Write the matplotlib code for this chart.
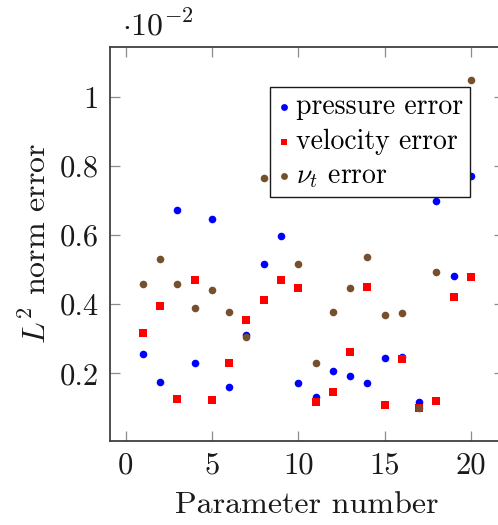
import matplotlib

matplotlib.use("Agg")
import matplotlib.pyplot as plt

plt.rcParams["font.family"] = "serif"
plt.rcParams["font.serif"] = ["cmr10", "DejaVu Serif"]
plt.rcParams["mathtext.fontset"] = "cm"
plt.rcParams["axes.formatter.use_mathtext"] = True

# values in units of 1e-2
params = list(range(1, 21))
pressure_err = [0.255, 0.175, 0.671, 0.231, 0.645, 0.161, 0.310, 0.517, 0.598, 0.172,
                0.130, 0.207, 0.191, 0.171, 0.243, 0.248, 0.116, 0.698, 0.482, 0.772]
velocity_err = [0.316, 0.396, 0.127, 0.471, 0.124, 0.229, 0.355, 0.411, 0.471, 0.447,
                0.116, 0.145, 0.263, 0.449, 0.109, 0.242, 0.101, 0.121, 0.420, 0.478]
nut_err = [0.458, 0.530, 0.459, 0.390, 0.440, 0.378, 0.306, 0.764, 0.900, 0.516,
           0.231, 0.376, 0.448, 0.536, 0.368, 0.374, 0.100, 0.492, 0.724, 1.050]

x_ticks = [0, 5, 10, 15, 20]
y_ticks = [0.2, 0.4, 0.6, 0.8, 1.0]
y_ticklabels = ["0.2", "0.4", "0.6", "0.8", "1"]

fig = plt.figure(figsize=(4.98, 5.25), dpi=100)
ax = fig.add_axes([0.2209, 0.1606, 0.7907, 0.7505])

ax.scatter(params, pressure_err, s=30, marker="o", color="#0000ff",
           linewidths=0, label="pressure error", zorder=3)
ax.scatter(params, velocity_err, s=30, marker="s", color="#ff0000",
           linewidths=0, label="velocity error", zorder=3)
ax.scatter(params, nut_err, s=30, marker="o", color="#76502c",
           linewidths=0, label=r"$\nu_t$ error", zorder=3)

ax.set_xlim(-0.9, 21.9)
ax.set_ylim(0.005, 1.145)
ax.set_xticks(x_ticks)
ax.set_xticklabels([str(t) for t in x_ticks])
ax.set_yticks(y_ticks)
ax.set_yticklabels(y_ticklabels)

ax.tick_params(direction="in", length=7.5, width=0.9, color="#8c8c8c",
               labelsize=22, top=True, right=True, pad=8, labelcolor="#1a1a1a")
for sp in ax.spines.values():
    sp.set_color("#404040")
    sp.set_linewidth(1.3)

ax.set_xlabel("Parameter number", fontsize=23, color="#1a1a1a", labelpad=9)
ax.set_ylabel(r"$L^2$ norm error", fontsize=23, color="#1a1a1a", labelpad=6)
ax.text(0.03, 1.015, r"$\cdot10^{-2}$", transform=ax.transAxes, fontsize=23,
        ha="left", va="bottom", color="#1a1a1a")

leg = ax.legend(loc="upper left", bbox_to_anchor=(0.406, 0.898), fontsize=20,
                frameon=True, fancybox=False, framealpha=1, edgecolor="#1a1a1a",
                handletextpad=0.2, handlelength=0.5, borderpad=0.25,
                labelspacing=0.3, markerscale=0.9, borderaxespad=0)
leg.get_frame().set_linewidth(1.0)
leg.set_zorder(5)

fig.savefig("out.png", dpi=100)
